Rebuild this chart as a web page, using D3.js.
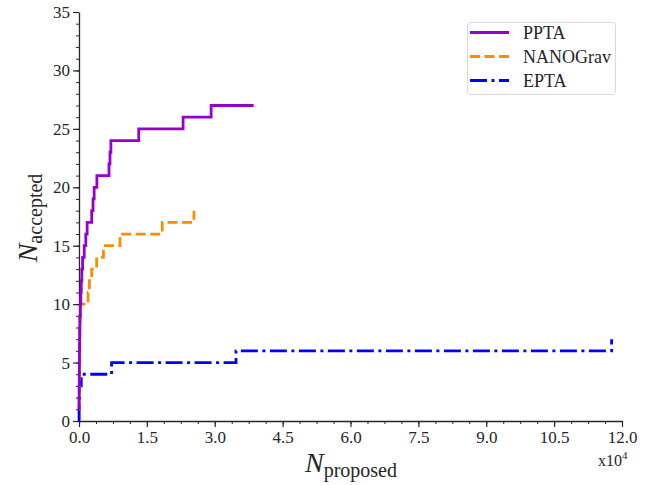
<!DOCTYPE html>
<html>
<head>
<meta charset="utf-8">
<script src="https://cdn.jsdelivr.net/npm/d3@7"></script>
<style>
  html, body { margin: 0; padding: 0; background: #fff; }
  svg { display: block; }
</style>
</head>
<body>
<svg id="chart" width="656" height="485"></svg>
<script>
// Proposed samples (units of 1e4) at which each accepted count is reached
const pptaProposed = [0, 0.002, 0.004, 0.006, 0.008, 0.010, 0.012, 0.015, 0.020, 0.030, 0.040, 0.050, 0.062, 0.080, 0.115, 0.150, 0.180, 0.280, 0.310, 0.335, 0.395, 0.663, 0.685, 0.705, 1.32, 2.30, 2.92, 3.86];
const pptaAccepted = [1, 2, 3, 4, 5, 6, 7, 8, 9, 10, 11, 12, 13, 14, 15, 16, 17, 18, 19, 20, 21, 22, 23, 24, 25, 26, 27, 27];

const nanogravProposed = [0, 0.003, 0.006, 0.009, 0.012, 0.015, 0.018, 0.022, 0.026, 0.032, 0.200, 0.230, 0.280, 0.390, 0.540, 0.906, 1.84, 2.54];
const nanogravAccepted = [1, 2, 3, 4, 5, 6, 7, 8, 9, 10, 11, 12, 13, 14, 15, 16, 17, 18];

const eptaProposed = [0, 0.002, 0.005, 0.012, 0.050, 0.72, 3.47, 11.77];
const eptaAccepted = [0, 1, 2, 3, 4, 5, 6, 7];

const seriesNames = ["PPTA", "NANOGrav", "EPTA"];
const seriesColors = ["#9400d3", "#ff8c00", "#0000ff"];
const seriesDashes = [null, "10,4.5", "17,4.5,3,4.5"];

const xMajorTicks = [0, 1.5, 3.0, 4.5, 6.0, 7.5, 9.0, 10.5, 12.0];
const yMajorTicks = [0, 5, 10, 15, 20, 25, 30, 35];

const svg = d3.select("#chart");
const plotLeft = 79, plotRight = 622, plotTop = 12, plotBottom = 421;

const x = d3.scaleLinear().domain([0, 12]).range([plotLeft, plotRight]);
const y = d3.scaleLinear().domain([0, 35]).range([plotBottom, plotTop]);

const serif = "'Liberation Serif', serif";
const ink = "#262626";

// minor ticks
svg.append("g")
  .attr("transform", `translate(0,${plotBottom})`)
  .call(d3.axisBottom(x).tickValues(d3.range(0, 12.0001, 0.375)).tickSize(3).tickFormat(""))
  .call(g => g.select(".domain").remove())
  .call(g => g.selectAll("line").attr("stroke", ink).attr("stroke-width", 1));
svg.append("g")
  .attr("transform", `translate(${plotLeft},0)`)
  .call(d3.axisLeft(y).tickValues(d3.range(0, 35.0001, 1)).tickSize(3).tickFormat(""))
  .call(g => g.select(".domain").remove())
  .call(g => g.selectAll("line").attr("stroke", ink).attr("stroke-width", 1));

// major axes
const xAxis = svg.append("g")
  .attr("transform", `translate(0,${plotBottom})`)
  .call(d3.axisBottom(x).tickValues(xMajorTicks).tickSize(6).tickSizeOuter(0).tickPadding(4).tickFormat(d3.format(".1f")));
const yAxis = svg.append("g")
  .attr("transform", `translate(${plotLeft},0)`)
  .call(d3.axisLeft(y).tickValues(yMajorTicks).tickSize(6).tickSizeOuter(0).tickPadding(3).tickFormat(d3.format("d")));

[xAxis, yAxis].forEach(a => {
  a.attr("font-family", null).attr("font-size", null);
  a.select(".domain").attr("stroke", ink).attr("stroke-width", 1.3);
  a.selectAll(".tick line").attr("stroke", ink).attr("stroke-width", 1.2);
  a.selectAll(".tick text")
    .style("font-family", serif)
    .style("font-size", "17px")
    .attr("fill", ink);
});

// step curves
const data = [
  d3.zip(pptaProposed, pptaAccepted),
  d3.zip(nanogravProposed, nanogravAccepted),
  d3.zip(eptaProposed, eptaAccepted)
];
const line = d3.line().x(d => x(d[0])).y(d => y(d[1])).curve(d3.curveStepAfter);

const plot = svg.append("g");
[2, 1, 0].forEach(i => {
  plot.append("path")
    .attr("d", line(data[i]))
    .attr("fill", "none")
    .attr("stroke", seriesColors[i])
    .attr("stroke-width", 2.8)
    .attr("stroke-dasharray", seriesDashes[i])
    .attr("stroke-linejoin", "miter");
});

// axis labels
const xl = svg.append("text")
  .attr("x", 351).attr("y", 472)
  .attr("text-anchor", "middle")
  .style("font-family", serif)
  .attr("fill", ink);
xl.append("tspan").style("font-style", "italic").style("font-size", "28px").text("N");
xl.append("tspan").style("font-size", "20px").attr("dy", 5).text("proposed");

const yl = svg.append("text")
  .attr("transform", "translate(37,218) rotate(-90)")
  .attr("text-anchor", "middle")
  .style("font-family", serif)
  .attr("fill", ink);
yl.append("tspan").style("font-style", "italic").style("font-size", "28px").text("N");
yl.append("tspan").style("font-size", "20px").attr("dy", 5).text("accepted");

// axis offset
const off = svg.append("text")
  .attr("x", 598).attr("y", 466)
  .style("font-family", serif)
  .style("font-size", "16px")
  .attr("fill", ink);
off.append("tspan").text("x10");
off.append("tspan").style("font-size", "11px").attr("dy", -7).text("4");

// legend
const lg = svg.append("g");
lg.append("rect")
  .attr("x", 467.5).attr("y", 22.5).attr("width", 148).attr("height", 72)
  .attr("rx", 3).attr("fill", "#fff").attr("fill-opacity", 0.8)
  .attr("stroke", "#d9d9d9").attr("stroke-width", 1);
const rowY = [32.5, 56.5, 80.5];
seriesNames.forEach((name, i) => {
  lg.append("line")
    .attr("x1", 470).attr("x2", 509)
    .attr("y1", rowY[i]).attr("y2", rowY[i])
    .attr("stroke", seriesColors[i]).attr("stroke-width", 2.8)
    .attr("stroke-dasharray", seriesDashes[i]);
  lg.append("text")
    .attr("x", 523).attr("y", rowY[i] + 6)
    .style("font-family", serif).style("font-size", "18px")
    .attr("fill", ink)
    .text(name);
});
</script>
</body>
</html>
